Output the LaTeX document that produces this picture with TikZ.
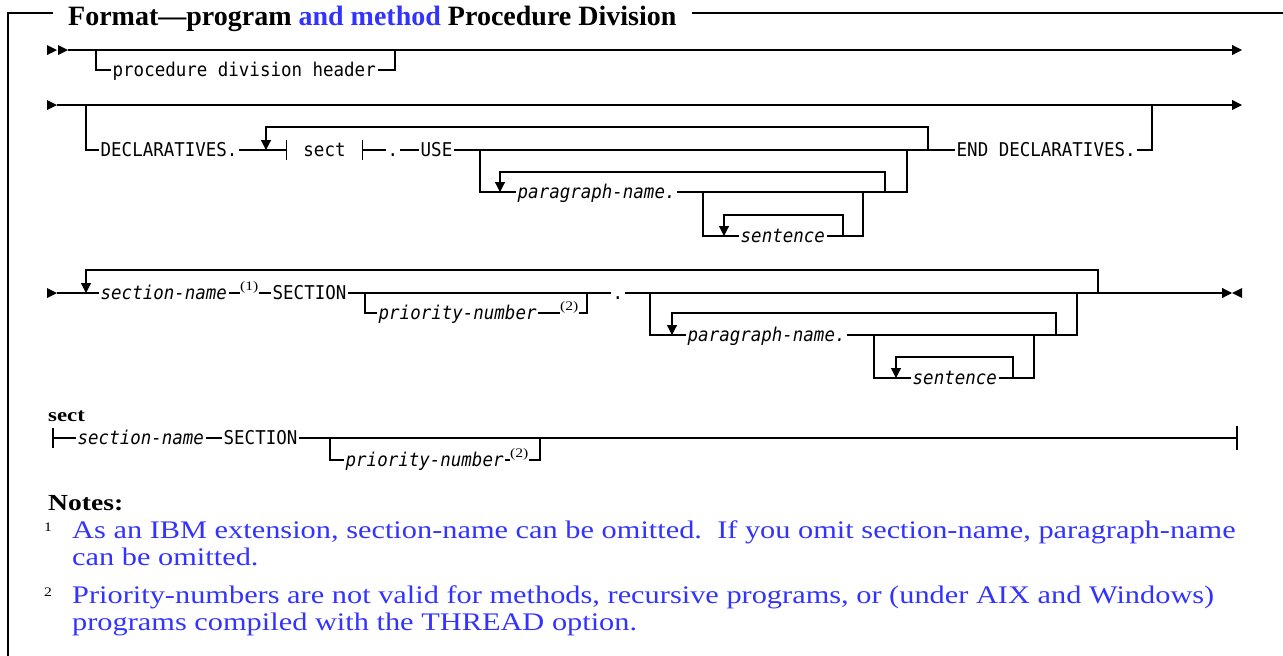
\documentclass[tikz,border=0pt]{standalone}
\usepackage{fontspec}
\setmainfont{Liberation Serif}
\newfontfamily\notefont[FakeStretch=1.2]{Liberation Serif}
\newfontfamily\railfont[FakeStretch=0.92]{DejaVu Sans Mono}
\usetikzlibrary{arrows.meta}

\definecolor{ibmblue}{RGB}{51,51,255}

\tikzset{
    rail/.style={line width=1.2pt},
    frameline/.style={line width=1.5pt},
    railtext/.style={inner xsep=1.5pt, inner ysep=0pt, text height=13.8pt, text depth=0pt,
        anchor=west, font={\railfont\fontsize{19}{22}\selectfont}},
    railvar/.style={railtext, font={\railfont\fontsize{19}{22}\selectfont\itshape}},
    loopback/.style={rail, -{Triangle[length=10pt,width=10pt]}},
    goon/.style={rail, -{Triangle[length=10pt,width=10pt]}},
    refnum/.style={inner sep=0pt, anchor=base west, font={\notefont\fontsize{13}{13}\selectfont}},
    notetext/.style={inner sep=0pt, anchor=base west, text=ibmblue, font={\notefont\fontsize{25.3}{30}\selectfont}},
    pics/tipR/.style={code={\fill (-10,-5) -- (0,0) -- (-10,5) -- cycle;}},
    pics/tipL/.style={code={\fill (10,-5) -- (0,0) -- (10,5) -- cycle;}},
}

\begin{document}
\begin{tikzpicture}[x=1pt,y=-1pt]

    \useasboundingbox (0,0) rectangle (1283,656);

    % frame and title
    \coordinate (fTL) at (8,13);
    \coordinate (fBL) at (8,656);
    \coordinate (fTR) at (1283,13);
    \node[anchor=base west, inner xsep=15pt, inner ysep=0pt, font={\bfseries\fontsize{28}{28}\selectfont}]
        (title) at (53,25) {Format---program \textcolor{ibmblue}{and method} Procedure Division};
    \draw[frameline] (fBL) -- (fTL) -- (fTL -| title.west);
    \draw[frameline] (title.east |- fTL) -- (fTR);

    % start tips
    \foreach \y in {50,105,293}
        \pic at (57,\y) {tipR};
    \pic at (68,50) {tipR};

    % line 1: procedure division header
    \coordinate (s1) at (68,50);
    \coordinate (e1) at (1242,50);
    \coordinate (h1) at (96,50);
    \coordinate (h2) at (395,50);
    \draw[goon] (s1) -- (e1);
    \node[railtext] (hdr) at (111,70) {procedure division header};
    \draw[rail] (h1) |- (hdr.west);
    \draw[rail] (hdr.east) -| (h2);

    % line 2: declaratives
    \coordinate (s2) at (57,105);
    \coordinate (e2) at (1242,105);
    \coordinate (d1) at (86,105);
    \coordinate (d2) at (1152,105);
    \draw[goon] (s2) -- (e2);
    \node[railtext] (decl) at (99,150) {DECLARATIVES.};
    \node[railtext, anchor=center, inner xsep=16.5pt] (sectref) at (324.5,150) {sect};
    \node[railtext] (dot1) at (386,150) {.};
    \node[railtext] (use) at (419,150) {USE};
    \node[railtext] (enddecl) at (955,150) {END DECLARATIVES.};
    \draw[rail] (d1) |- (decl.west);
    \draw[rail] (decl.east) -- (sectref.west);
    \draw[rail] ([yshift=10pt]sectref.west) -- ([yshift=-10pt]sectref.west);
    \draw[rail] ([yshift=10pt]sectref.east) -- ([yshift=-10pt]sectref.east);
    \draw[rail] (sectref.east) -- (dot1.west);
    \draw[rail] (dot1.east) -- (use.west);
    \draw[rail] (use.east) -- (enddecl.west);
    \draw[rail] (enddecl.east) -| (d2);
    \coordinate (aR) at (928,150);
    \coordinate (aL) at (266,150);
    \draw[loopback] (aR) -- ++(0,-23) -| (aL);

    % paragraphs after USE
    \coordinate (u1) at (480,150);
    \coordinate (u2) at (907,150);
    \node[railvar] (para1) at (516,192) {paragraph-name.};
    \draw[rail] (u1) |- (para1.west);
    \draw[rail] (para1.east) -| (u2);
    \coordinate (pR) at (885,192);
    \coordinate (pL) at (500,192);
    \draw[loopback] (pR) -- ++(0,-20) -| (pL);

    \coordinate (p1) at (703,192);
    \coordinate (p2) at (863,192);
    \node[railvar] (sent1) at (739,236) {sentence};
    \draw[rail] (p1) |- (sent1.west);
    \draw[rail] (sent1.east) -| (p2);
    \coordinate (tR) at (843,236);
    \coordinate (tL) at (724,236);
    \draw[loopback] (tR) -- ++(0,-21) -| (tL);

    % line 3: sections
    \coordinate (s3) at (57,293);
    \coordinate (e3) at (1232,293);
    \node[railvar] (secname) at (99,293) {section-name};
    \node[refnum] (fn1) at (240,290) {(1)};
    \node[railtext] (seckw) at (271,293) {SECTION};
    \node[railtext] (dot2) at (611,293) {.};
    \draw[rail] (s3) -- (secname.west);
    \draw[rail] (secname.east) -- (secname.east -| fn1.west);
    \draw[rail] (secname.east -| fn1.east) -- (seckw.west);
    \draw[rail] (seckw.east) -- (dot2.west);
    \draw[goon] (dot2.east) -- (e3);
    \pic at (e3) {tipL};
    \coordinate (mR) at (1098,293);
    \coordinate (mL) at (86,293);
    \draw[loopback] (mR) -- ++(0,-23) -| (mL);

    \coordinate (r1) at (365,293);
    \coordinate (r2) at (587,293);
    \node[railvar] (prio1) at (377,313) {priority-number};
    \node[refnum] (fn2) at (560,310) {(2)};
    \draw[rail] (r1) |- (prio1.west);
    \draw[rail] (prio1.east) -- (prio1.east -| fn2.west);
    \draw[rail] (prio1.east -| fn2.east) -| (r2);

    \coordinate (q1) at (650,293);
    \coordinate (q2) at (1077,293);
    \node[railvar] (para2) at (686,335) {paragraph-name.};
    \draw[rail] (q1) |- (para2.west);
    \draw[rail] (para2.east) -| (q2);
    \coordinate (qR) at (1056,335);
    \coordinate (qL) at (672,335);
    \draw[loopback] (qR) -- ++(0,-22) -| (qL);

    \coordinate (w1) at (874,335);
    \coordinate (w2) at (1034,335);
    \node[railvar] (sent2) at (911,378) {sentence};
    \draw[rail] (w1) |- (sent2.west);
    \draw[rail] (sent2.east) -| (w2);
    \coordinate (wR) at (1013,378);
    \coordinate (wL) at (896,378);
    \draw[loopback] (wR) -- ++(0,-21) -| (wL);

    % sect fragment
    \node[inner sep=0pt, anchor=base west, font={\notefont\bfseries\fontsize{19}{19}\selectfont}]
        (sectlbl) at (48,421) {sect};
    \coordinate (k0) at (53,438);
    \coordinate (k1) at (1237,438);
    \node[railvar] (sname) at (76,438) {section-name};
    \node[railtext] (skw) at (222,438) {SECTION};
    \draw[rail] ([yshift=10pt]k0) -- ([yshift=-10pt]k0);
    \draw[rail] ([yshift=12pt]k1) -- ([yshift=-12pt]k1);
    \draw[rail] (k0) -- (sname.west);
    \draw[rail] (sname.east) -- (skw.west);
    \draw[rail] (skw.east) -- (k1);
    \coordinate (v1) at (330,438);
    \coordinate (v2) at (540,438);
    \node[railvar] (prio2) at (344,460) {priority-number};
    \node[refnum] (fn3) at (510,457) {(2)};
    \draw[rail] (v1) |- (prio2.west);
    \draw[rail] (prio2.east) -- (prio2.east -| fn3.west);
    \draw[rail] (prio2.east -| fn3.east) -| (v2);

    % notes
    \node[inner sep=0pt, anchor=base west, font={\notefont\bfseries\fontsize{23}{23}\selectfont}]
        (notes) at (48,510) {Notes:};
    \node[refnum] (mark1) at (44,531) {1};
    \node[notetext] (note1a) at (72,538) {As an IBM extension, section-name can be omitted.\ \ If you omit section-name, paragraph-name};
    \node[notetext] (note1b) at (72,565) {can be omitted.};
    \node[refnum] (mark2) at (44,596) {2};
    \node[notetext] (note2a) at (72,603) {Priority-numbers are not valid for methods, recursive programs, or (under AIX and Windows)};
    \node[notetext] (note2b) at (72,630) {programs compiled with the THREAD option.};

\end{tikzpicture}
\end{document}
